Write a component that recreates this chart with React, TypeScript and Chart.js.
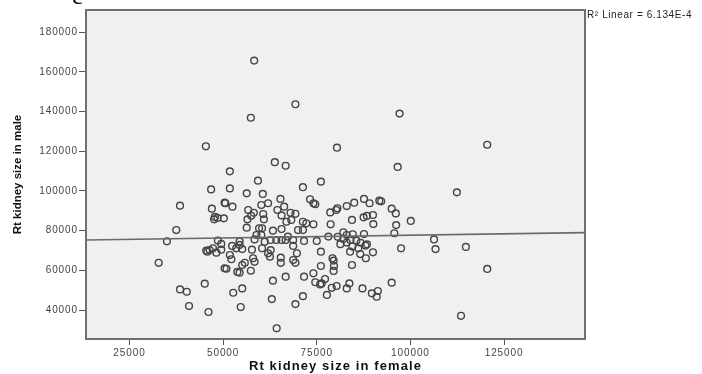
import { useEffect, useRef } from 'react';
import { Chart, registerables } from 'chart.js';

Chart.register(...registerables);

const femaleSize = [
  58300, 69300, 57400, 45400, 63800, 66700, 51800, 59300, 71300,
  97100, 80400, 120500, 96600, 76100,
  46800, 51800, 56300, 60600, 65300, 38500, 50400, 50600, 52500, 47000,
  56700, 60200, 62000, 66300, 64500, 58200, 57500, 56500, 60700, 60900,
  47800, 47600, 48500, 50200, 65600, 68000, 69300, 66900, 68200, 71300,
  72200, 37500, 56300, 59600, 60400, 58900, 60200, 63300, 65600, 67300,
  70000, 71300, 35000, 48600, 49500, 54400, 54400, 58400, 61100, 62700,
  64200, 65600, 66700, 68700, 71600, 45500, 46400, 47300, 48200, 49500,
  52400, 53500, 55100, 57700, 60400, 62700, 62000, 62500, 65400, 65400,
  68700, 69700, 69300, 68700, 51800, 52200, 58000, 58400, 55800, 55100,
  57400, 32800, 50400, 50900, 53800, 54400, 66700, 71600, 63300, 45100,
  38500, 40300, 52700, 55100, 63000, 71300, 69300, 40900, 54700, 46100,
  64300, 45800,
  112400, 73200, 74100, 74600, 87600, 85000, 83000, 89100, 91700, 92200,
  78600, 80200, 80500, 95000, 96100, 84400, 87500, 88400, 90000, 90100,
  96200, 100100, 78700, 74100, 82100, 83000, 84600, 87600, 95700,
  80600, 82100, 84000, 85600, 83000, 81300, 86700, 88000, 84500,
  75000, 78100, 106300, 106700, 114800, 97500, 88400, 90000, 86100, 86600,
  88100, 83900, 76100, 79200, 79500, 79600, 79500, 76100, 84400, 74100,
  77200, 74600, 76300, 75900, 83700, 83000, 80300, 79000, 87200, 95000,
  91300, 89700, 91000, 77700, 120500, 113500,
];

const maleSize = [
  165700, 143700, 136900, 122500, 114500, 112700, 109900, 105200, 101900,
  139000, 121800, 123300, 112100, 104700,
  100800, 101300, 98800, 98500, 96000, 92600, 94100, 93800, 92100, 91100,
  90400, 92900, 93800, 92100, 90400, 89000, 87500, 85700, 88400, 85700,
  86900, 85700, 86400, 86200, 87700, 89000, 88500, 84500, 85400, 84500,
  83700, 80300, 81500, 81200, 81200, 77800, 77800, 80000, 80800, 77000,
  80300, 80300, 74600, 75000, 73300, 74600, 72800, 75600, 74400, 75300,
  75300, 75300, 75300, 75300, 74800, 70000, 70200, 71100, 68900, 70400,
  72300, 71100, 70700, 70400, 71100, 70200, 68600, 66900, 66400, 63800,
  65200, 68600, 63800, 72300, 67700, 65600, 66100, 64300, 63800, 62700,
  59800, 63800, 61000, 60800, 59200, 58800, 56800, 56800, 54800, 53300,
  50400, 49200, 48700, 50900, 45500, 47000, 43000, 42000, 41500, 39000,
  30800, 69400,
  99300, 95800, 93800, 93300, 96000, 94100, 92400, 93800, 95100, 94800,
  89200, 90400, 91300, 91100, 88700, 85400, 86700, 87400, 87900, 83300,
  82800, 84900, 83200, 83200, 79200, 77800, 78200, 78300, 78700,
  76900, 75800, 75300, 75000, 74000, 73200, 73900, 72500, 72000,
  74800, 77000, 75600, 70700, 71800, 71100, 73100, 69100, 71100, 68200,
  66100, 69400, 69400, 66100, 64900, 62200, 59700, 62200, 62700, 58500,
  55600, 54000, 53400, 52900, 53400, 50900, 52100, 51200, 50900, 53800,
  49600, 48400, 46700, 47600, 60700, 37100,
];

const xTicks = [25000, 50000, 75000, 100000, 125000];
const yTicks = [40000, 60000, 80000, 100000, 120000, 140000, 160000, 180000];
const xRange = [13400, 146600];
const yRange = [25400, 191200];
const fitX = [13400, 146600];
const fitY = [75300, 79000];

const xTitle = 'Rt kidney size in female';
const yTitle = 'Rt kidney size in male';
const r2Label = 'R\u00B2 Linear = 6.134E-4';
const cornerLabel = 'c';

const FONT = "'Liberation Sans', Arial, sans-serif";

export default function App() {
  const ref = useRef<HTMLCanvasElement | null>(null);

  useEffect(() => {
    document.body.style.margin = '0';
    const canvas = ref.current;
    if (!canvas) return;

    const decor = {
      id: 'decor',
      beforeDraw(chart: any) {
        const { ctx, chartArea: a } = chart;
        ctx.save();
        ctx.fillStyle = '#ffffff';
        ctx.fillRect(0, 0, chart.width, chart.height);
        ctx.fillStyle = '#f0f0f0';
        ctx.fillRect(a.left, a.top, a.right - a.left, a.bottom - a.top);
        ctx.restore();
        (ctx as any).letterSpacing = '0.9px';
      },
      afterDraw(chart: any) {
        const { ctx, chartArea: a } = chart;
        (ctx as any).letterSpacing = '0px';
        ctx.save();
        ctx.strokeStyle = '#707070';
        ctx.lineWidth = 2;
        ctx.strokeRect(a.left, a.top, a.right - a.left, a.bottom - a.top);

        ctx.fillStyle = '#111';
        ctx.font = `bold 13px ${FONT}`;
        (ctx as any).letterSpacing = '1.1px';
        ctx.textAlign = 'center';
        ctx.textBaseline = 'middle';
        ctx.fillText(xTitle, (a.left + a.right) / 2, 366);

        ctx.save();
        ctx.translate(18, (a.top + a.bottom) / 2);
        ctx.rotate(-Math.PI / 2);
        ctx.font = `bold 11.5px ${FONT}`;
        (ctx as any).letterSpacing = '0px';
        ctx.fillText(yTitle, 0, 0);
        ctx.restore();

        (ctx as any).letterSpacing = '0.6px';
        ctx.font = `10px ${FONT}`;
        ctx.fillStyle = '#222';
        ctx.textAlign = 'left';
        ctx.fillText(r2Label, a.right + 2, 15);

        (ctx as any).letterSpacing = '0px';
        ctx.font = `24px 'Liberation Serif', serif`;
        ctx.textBaseline = 'alphabetic';
        ctx.fillStyle = '#000';
        ctx.fillText(cornerLabel, 72, 4);
        ctx.restore();
      },
    };

    const points = femaleSize.map((x, i) => ({ x, y: maleSize[i] }));
    const linePts = fitX.map((x, i) => ({ x, y: fitY[i] }));

    const chart = new Chart(canvas, {
      type: 'scatter',
      data: {
        datasets: [
          {
            type: 'line',
            data: linePts,
            borderColor: '#6a6a6a',
            borderWidth: 1.6,
            pointRadius: 0,
            fill: false,
            order: 0,
          } as any,
          {
            data: points,
            pointRadius: 3.4,
            pointStyle: 'circle',
            borderColor: '#444',
            borderWidth: 1.4,
            backgroundColor: 'rgba(0,0,0,0)',
            order: 1,
          },
        ],
      },
      options: {
        responsive: false,
        devicePixelRatio: 1,
        animation: false,
        events: [],
        layout: { padding: { top: 10, right: 117, left: 0, bottom: 0 } },
        plugins: { legend: { display: false }, tooltip: { enabled: false } },
        scales: {
          x: {
            type: 'linear',
            min: xRange[0],
            max: xRange[1],
            afterBuildTicks: (s: any) => {
              s.ticks = xTicks.map((v) => ({ value: v }));
            },
            afterFit: (s: any) => {
              s.height = 35;
            },
            grid: { drawOnChartArea: false, drawTicks: true, tickLength: 6, color: '#555', lineWidth: 1 },
            border: { display: false },
            ticks: {
              color: '#444',
              font: { family: FONT, size: 10 },
              padding: 2,
              maxRotation: 0,
              autoSkip: false,
              callback: (v: any) => String(v),
            },
          },
          y: {
            type: 'linear',
            min: yRange[0],
            max: yRange[1],
            afterBuildTicks: (s: any) => {
              s.ticks = yTicks.map((v) => ({ value: v }));
            },
            afterFit: (s: any) => {
              s.width = 86;
            },
            grid: { drawOnChartArea: false, drawTicks: true, tickLength: 7, color: '#555', lineWidth: 1 },
            border: { display: false },
            ticks: {
              color: '#444',
              font: { family: FONT, size: 10 },
              padding: 1,
              autoSkip: false,
              callback: (v: any) => String(v),
            },
          },
        },
      },
      plugins: [decor],
    });

    return () => chart.destroy();
  }, []);

  return (
    <div style={{ width: 702, height: 374 }}>
      <canvas ref={ref} width={702} height={374} style={{ display: 'block' }} />
    </div>
  );
}
